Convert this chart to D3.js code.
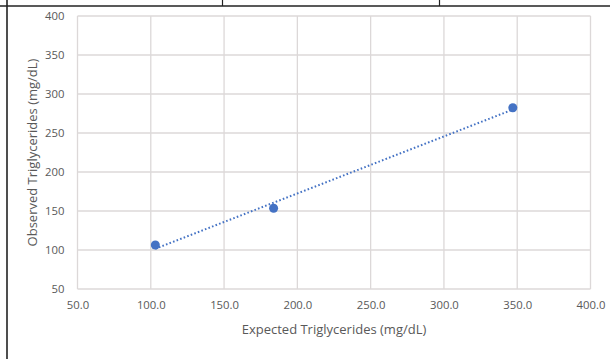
<!DOCTYPE html>
<html><head><meta charset="utf-8">
<script src="https://cdn.jsdelivr.net/npm/d3@7"></script>
<style>
html,body{margin:0;padding:0;background:#fff;}
svg{display:block;}
text{font-family:"Open Sans","Noto Sans",sans-serif;fill:#595959;}
</style></head>
<body>
<svg id="c" width="610" height="359"></svg>
<script>
const expected = [103.1, 183.8, 347.0];
const observed = [106.4, 153.5, 282.4];
const xTicks = [50, 100, 150, 200, 250, 300, 350, 400];
const yTicks = [50, 100, 150, 200, 250, 300, 350, 400];
const xTitle = "Expected Triglycerides (mg/dL)";
const yTitle = "Observed Triglycerides (mg/dL)";

const svg = d3.select("#c");
const L = 77.5, R = 590.5, T = 16, B = 289;
const x = d3.scaleLinear().domain([50, 400]).range([L, R]);
const y = d3.scaleLinear().domain([50, 400]).range([B, T]);

// table frame
svg.append("line").attr("x1",0).attr("x2",610).attr("y1",6).attr("y2",6).attr("stroke","#222").attr("stroke-width",1.6);
svg.append("line").attr("x1",7).attr("x2",7).attr("y1",0).attr("y2",359).attr("stroke","#222").attr("stroke-width",1.6);
svg.append("line").attr("x1",222.5).attr("x2",222.5).attr("y1",0).attr("y2",6).attr("stroke","#222").attr("stroke-width",1.2);
svg.append("line").attr("x1",439.5).attr("x2",439.5).attr("y1",0).attr("y2",6).attr("stroke","#222").attr("stroke-width",1.2);

// grid
const grid = svg.append("g");
grid.selectAll(".gx").data(xTicks).join("line")
  .attr("x1",d=>x(d)).attr("x2",d=>x(d)).attr("y1",T).attr("y2",B)
  .attr("stroke","#dcd8d8").attr("stroke-width",1.3);
grid.selectAll(".gy").data(yTicks).join("line")
  .attr("y1",d=>y(d)).attr("y2",d=>y(d)).attr("x1",L).attr("x2",R)
  .attr("stroke","#dcd8d8").attr("stroke-width",1.3);

// axes labels via d3 axes
const xAxis = svg.append("g").attr("transform",`translate(0,${B})`)
  .call(d3.axisBottom(x).tickValues(xTicks).tickFormat(d3.format(".1f")).tickSize(0).tickPadding(12));
const yAxis = svg.append("g").attr("transform",`translate(${L},0)`)
  .call(d3.axisLeft(y).tickValues(yTicks).tickFormat(d3.format("d")).tickSize(0).tickPadding(13));
[xAxis,yAxis].forEach(a=>{
  a.select(".domain").remove();
  a.selectAll("text").attr("font-size",11.3).attr("fill","#555").style("font-family",'"Open Sans","Noto Sans",sans-serif');
});

// trendline (least squares)
const mx = d3.mean(expected), my = d3.mean(observed);
let sxy=0, sxx=0;
expected.forEach((v,i)=>{ sxy+=(v-mx)*(observed[i]-my); sxx+=(v-mx)*(v-mx); });
const slope = sxy/sxx, icpt = my - slope*mx;
const x0 = d3.min(expected), x1 = d3.max(expected);
svg.append("line")
  .attr("x1",x(x0)).attr("y1",y(icpt+slope*x0))
  .attr("x2",x(x1)).attr("y2",y(icpt+slope*x1))
  .attr("stroke","#4472C4").attr("stroke-width",2).attr("stroke-dasharray","1.6,2.2");

// points
svg.selectAll(".pt").data(expected.map((v,i)=>[v,observed[i]])).join("circle")
  .attr("cx",d=>x(d[0])).attr("cy",d=>y(d[1])).attr("r",4.5).attr("fill","#4472C4");

// titles
svg.append("text").attr("x",(L+R)/2).attr("y",334).attr("text-anchor","middle")
  .attr("font-size",13).text(xTitle);
svg.append("text").attr("transform",`translate(37,${(T+B)/2}) rotate(-90)`).attr("text-anchor","middle")
  .attr("font-size",13).text(yTitle);
</script>
</body></html>
